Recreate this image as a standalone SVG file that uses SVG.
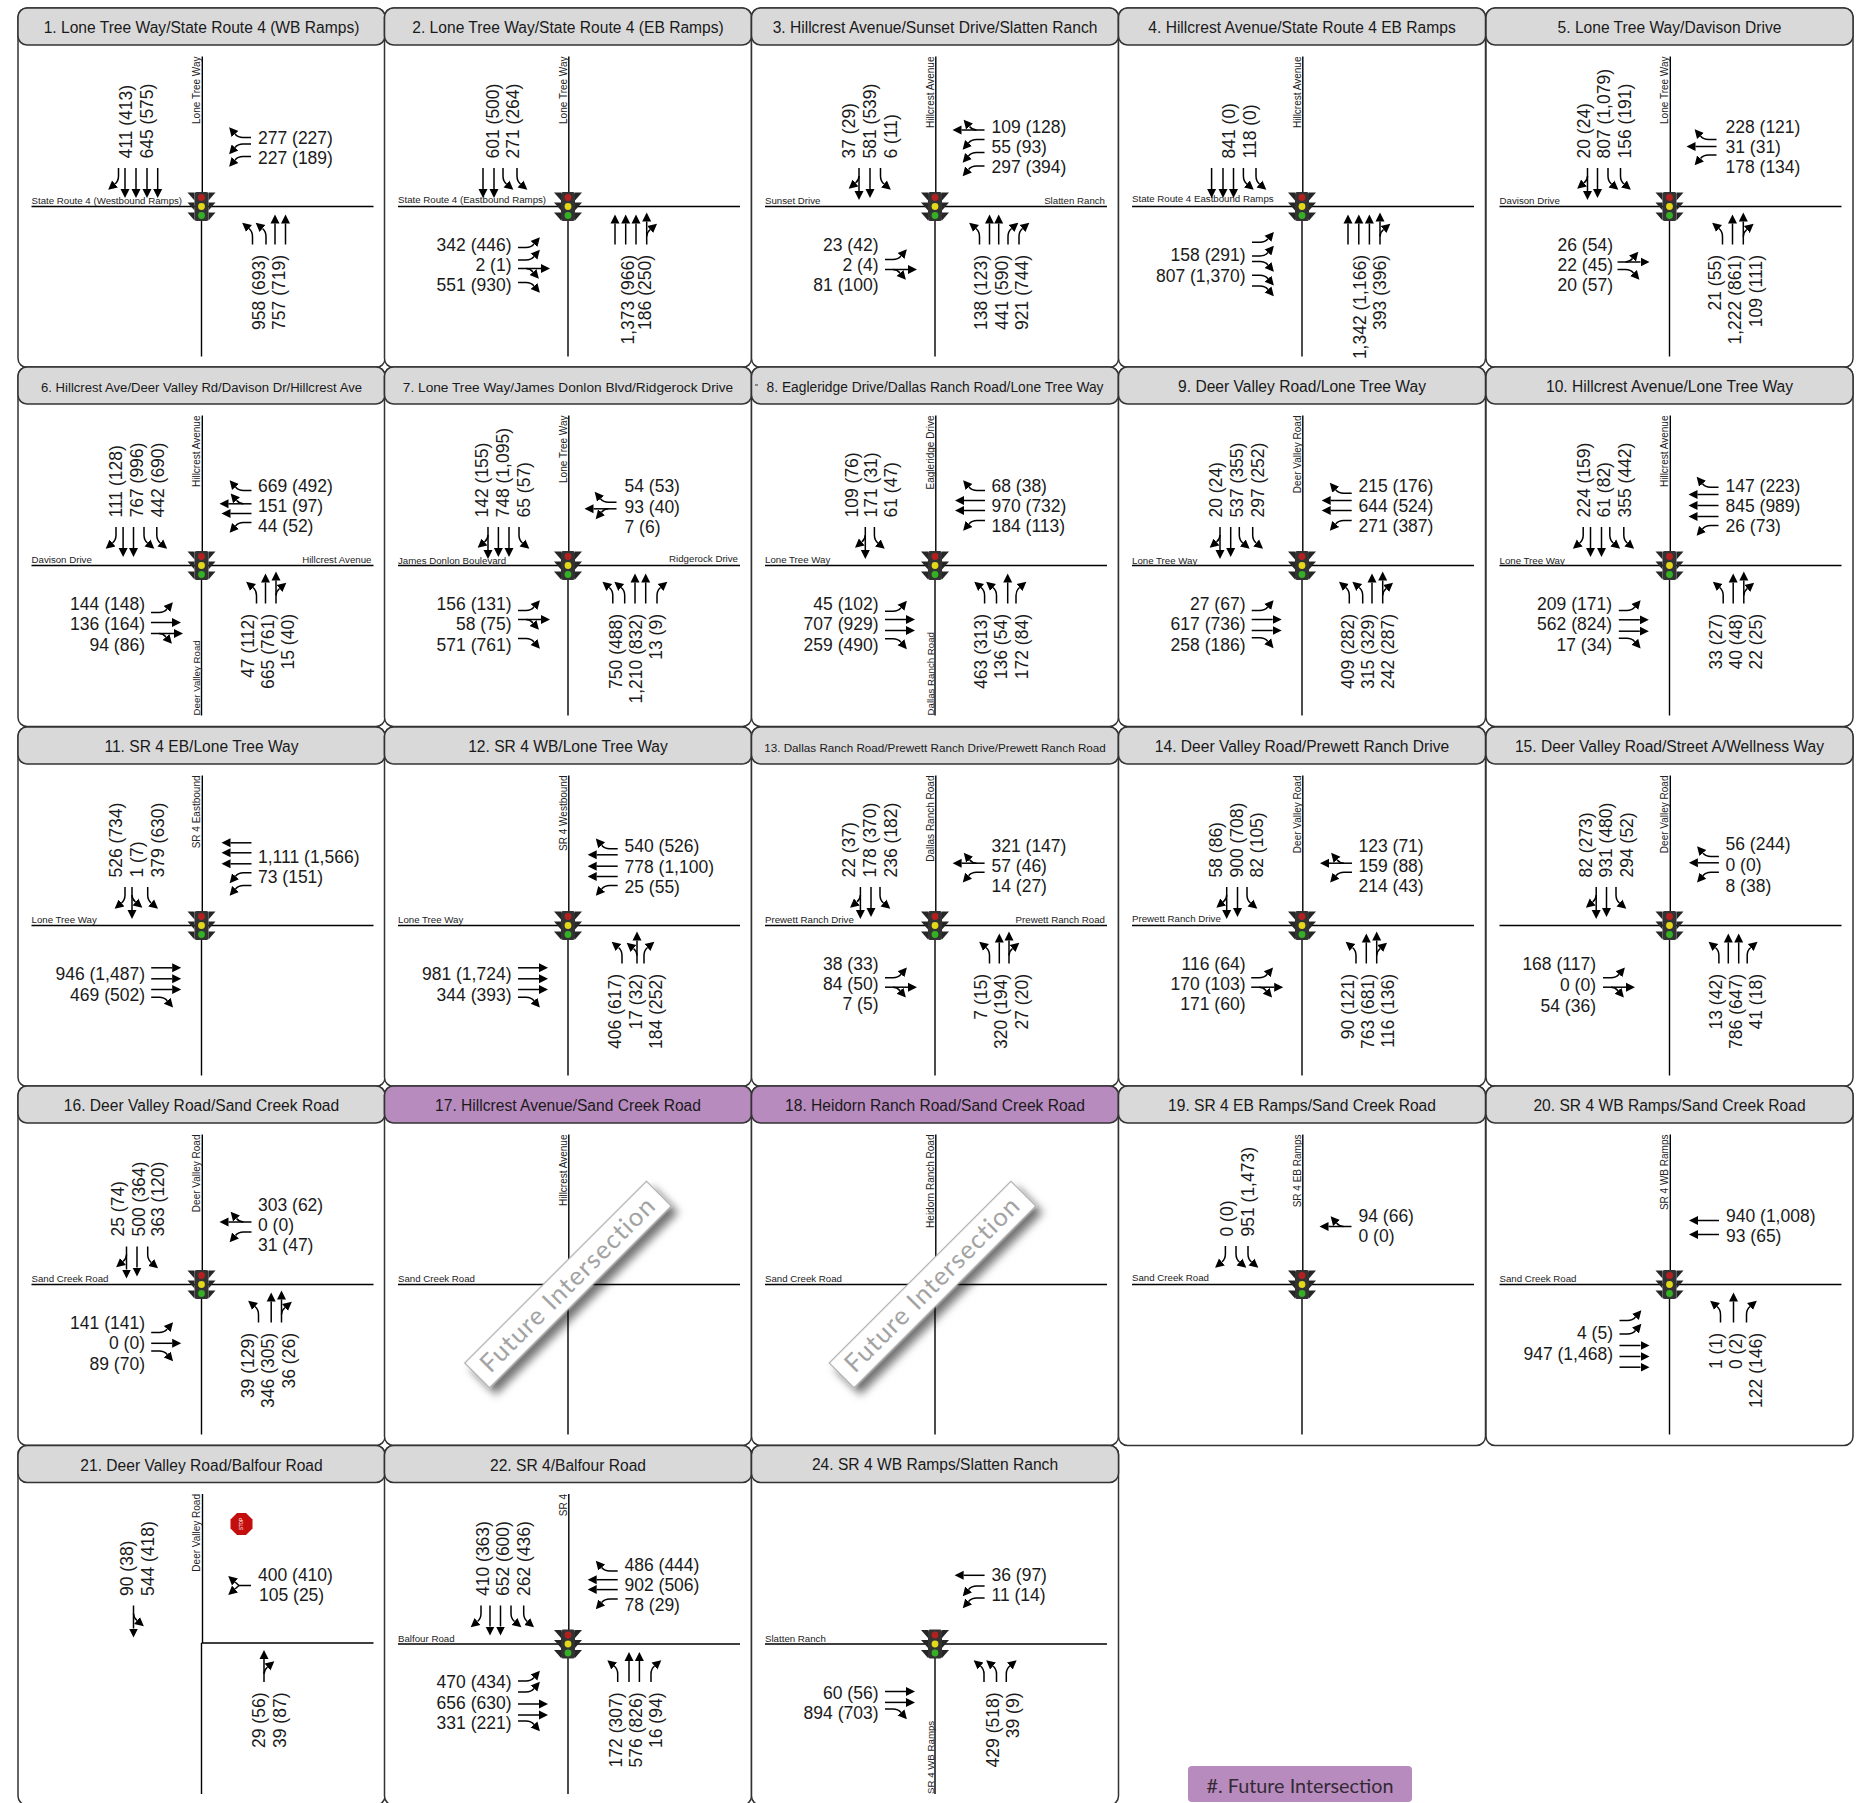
<svg xmlns="http://www.w3.org/2000/svg" xmlns:xlink="http://www.w3.org/1999/xlink" width="1869" height="1803" viewBox="0 0 1869 1803">
<style>
text{font-family:"Liberation Sans",Arial,sans-serif;fill:#1a1a1a}
.n text{font-size:17.5px}
.e{text-anchor:end}
.hd{fill:#d9d9d9;stroke:#333;stroke-width:1.5}
.hp{fill:#b88bbf;stroke:#333;stroke-width:1.5}
.fr{fill:#fff;stroke:#333;stroke-width:1.5}
.tt{font-size:15.6px;text-anchor:middle}
.rd{fill:none;stroke:#000;stroke-width:1.4}
.rl{font-size:10px;fill:#222}
.rh{font-size:9.7px;fill:#222}
.a{fill:none;stroke:#000;stroke-width:1.5;marker-end:url(#h)}
.ban{fill:#fff;stroke:#a8a8a8;stroke-width:1.2}
.bt{font-family:Lato,"Open Sans",sans-serif;font-size:25.5px;fill:#a3a3a3;text-anchor:middle;letter-spacing:1.2px}
</style>
<defs>
<marker id="h" markerUnits="userSpaceOnUse" markerWidth="12" markerHeight="12" refX="0" refY="6" orient="auto"><path d="M0,1.5L9,6L0,10.5z" fill="#000"/></marker>
<filter id="ds" x="-20%" y="-80%" width="140%" height="300%"><feDropShadow dx="0" dy="9" stdDeviation="4.5" flood-color="#000" flood-opacity=".55"/></filter>
<rect id="frame" class="fr" x="-183.5" y="-198.5" width="367" height="359.5" rx="9"/>
<rect id="hg" class="hd" x="-183.5" y="-198.5" width="367" height="37" rx="9"/>
<rect id="hv" class="hp" x="-183.5" y="-198.5" width="367" height="37" rx="9"/>
<path id="roads" class="rd" d="M.8,-150V0M0,0V150M-170,0H172"/>
<g id="t"><path class="a" d="M0,0V21"/></g>
<g id="r"><path class="a" d="M0,0V8Q0,13 -3.5,16"/></g>
<g id="l"><path class="a" d="M0,0V8Q0,13 3.5,16"/></g>
<g id="tr"><path class="a" d="M0,0V23"/><path class="a" d="M0,8Q0,12 -3.5,15"/></g>
<g id="tl"><path class="a" d="M0,0V23"/><path class="a" d="M0,8Q0,12 3.5,15"/></g>
<g id="y"><path class="a" d="M0,0V12L-3.5,16"/><path class="a" d="M0,12L3.5,16"/></g>
<g id="sig">
<path d="M-7,-14H-14L-7,-6zM7,-14H14L7,-6zM-7,-4H-14L-7,4zM7,-4H14L7,4zM-7,6H-14L-7,14zM7,6H14L7,14z" fill="#262626"/>
<rect x="-7" y="-14.5" width="14" height="29" rx="2" fill="#333"/>
<circle cy="-9" r="3.4" fill="#b32020"/><circle cy="0" r="3.4" fill="#e3d81a"/><circle cy="9" r="3.4" fill="#35b025"/>
</g>
</defs>

<g id="n1" transform="translate(201.5,206.5)"><use href="#frame"/><use href="#hg"/><text class="tt" y="-173.5">1. Lone Tree Way/State Route 4 (WB Ramps)</text><use href="#roads"/>
<text class="rh" x="-170" y="-2.5">State Route 4 (Westbound Ramps)</text><text class="rl e" transform="translate(-1.5,-150) rotate(-90)">Lone Tree Way</text><use href="#sig"/>
<g transform="translate(0,-38.5)"><use href="#r" x="-83"/><use href="#t" x="-76.5"/><use href="#t" x="-65.5"/><use href="#t" x="-54.5"/><use href="#t" x="-43.8"/></g>
<g transform="translate(49.5,0) rotate(90)"><use href="#r" x="-69"/><use href="#l" x="-62.5"/><use href="#l" x="-50"/></g>
<g transform="translate(0,38) rotate(180)"><use href="#l" x="-51"/><use href="#l" x="-64.5"/><use href="#t" x="-73.5"/><use href="#t" x="-84"/></g>
<g class="n"><g transform="translate(0,-48) rotate(-90)"><text y="-69.5">411 (413)</text><text y="-49">645 (575)</text></g><text x="56.5" y="-62.5">277 (227)</text><text x="56.5" y="-42.5">227 (189)</text><g class="e" transform="translate(0,48.5) rotate(-90)"><text y="63.5">958 (693)</text><text y="83.5">757 (719)</text></g></g></g>

<g id="n2" transform="translate(568,206.5)"><use href="#frame"/><use href="#hg"/><text class="tt" y="-173.5">2. Lone Tree Way/State Route 4 (EB Ramps)</text><use href="#roads"/>
<text class="rh" x="-170" y="-3.5">State Route 4 (Eastbound Ramps)</text><text class="rl e" transform="translate(-1.5,-150) rotate(-90)">Lone Tree Way</text><use href="#sig"/>
<g transform="translate(0,-38.5)"><use href="#t" x="-85"/><use href="#t" x="-74"/><use href="#l" x="-65"/><use href="#l" x="-51"/></g>
<g transform="translate(-50,0) rotate(-90)"><use href="#l" x="-41"/><use href="#l" x="-53.5"/><use href="#tr" x="-62"/><use href="#r" x="-76"/></g>
<g transform="translate(0,38) rotate(180)"><use href="#t" x="-47"/><use href="#t" x="-57.7"/><use href="#t" x="-68"/><use href="#tr" x="-78.7"/></g>
<g class="n"><g transform="translate(0,-48) rotate(-90)"><text y="-69.5">601 (500)</text><text y="-48.7">271 (264)</text></g><g class="e"><text x="-56.5" y="44">342 (446)</text><text x="-56.5" y="64.5">2 (1)</text><text x="-56.5" y="84.5">551 (930)</text></g><g class="e" transform="translate(0,48.5) rotate(-90)"><text y="66">1,373 (966)</text><text y="83">186 (250)</text></g></g></g>

<g id="n3" transform="translate(935,206.5)"><use href="#frame"/><use href="#hg"/><text class="tt" y="-173.5">3. Hillcrest Avenue/Sunset Drive/Slatten Ranch</text><use href="#roads"/>
<text class="rh" x="-170" y="-2.5">Sunset Drive</text><text class="rh e" x="170" y="-2.5">Slatten Ranch</text><text class="rl e" transform="translate(-1.5,-150) rotate(-90)">Hillcrest Avenue</text><use href="#sig"/>
<g transform="translate(0,-38.5)"><use href="#tr" x="-76"/><use href="#t" x="-65"/><use href="#l" x="-54.5"/></g>
<g transform="translate(49.5,0) rotate(90)"><use href="#tr" x="-76.5"/><use href="#l" x="-67"/><use href="#l" x="-54"/><use href="#l" x="-40.5"/></g>
<g transform="translate(-50,0) rotate(-90)"><use href="#l" x="-53"/><use href="#tr" x="-63"/></g>
<g transform="translate(0,38) rotate(180)"><use href="#l" x="-44.5"/><use href="#t" x="-54.5"/><use href="#t" x="-63.7"/><use href="#r" x="-73"/><use href="#r" x="-84"/></g>
<g class="n"><g transform="translate(0,-48) rotate(-90)"><text y="-80">37 (29)</text><text y="-59">581 (539)</text><text y="-38">6 (11)</text></g><text x="56.5" y="-74">109 (128)</text><text x="56.5" y="-53.5">55 (93)</text><text x="56.5" y="-33.5">297 (394)</text><g class="e"><text x="-56.5" y="44">23 (42)</text><text x="-56.5" y="64.5">2 (4)</text><text x="-56.5" y="84.5">81 (100)</text></g><g class="e" transform="translate(0,48.5) rotate(-90)"><text y="52">138 (123)</text><text y="72.5">441 (590)</text><text y="92.5">921 (744)</text></g></g></g>

<g id="n4" transform="translate(1302,206.5)"><use href="#frame"/><use href="#hg"/><text class="tt" y="-173.5">4. Hillcrest Avenue/State Route 4 EB Ramps</text><use href="#roads"/>
<text class="rh" x="-170" y="-5">State Route 4 Eastbound Ramps</text><text class="rl e" transform="translate(-1.5,-150) rotate(-90)">Hillcrest Avenue</text><use href="#sig"/>
<g transform="translate(0,-38.5)"><use href="#t" x="-90.4"/><use href="#t" x="-79"/><use href="#t" x="-68.5"/><use href="#l" x="-58.6"/><use href="#l" x="-46"/></g>
<g transform="translate(-50,0) rotate(-90)"><use href="#l" x="-35.8"/><use href="#l" x="-49.5"/><use href="#r" x="-55"/><use href="#r" x="-68.7"/><use href="#r" x="-79.5"/></g>
<g transform="translate(0,38) rotate(180)"><use href="#t" x="-46"/><use href="#t" x="-56.8"/><use href="#t" x="-67.4"/><use href="#tr" x="-78"/></g>
<g class="n"><g transform="translate(0,-48) rotate(-90)"><text y="-67">841 (0)</text><text y="-46">118 (0)</text></g><g class="e"><text x="-56.5" y="54.5">158 (291)</text><text x="-56.5" y="75">807 (1,370)</text></g><g class="e" transform="translate(0,48.5) rotate(-90)"><text y="64">1,342 (1,166)</text><text y="83.7">393 (396)</text></g></g></g>

<g id="n5" transform="translate(1669.5,206.5)"><use href="#frame"/><use href="#hg"/><text class="tt" y="-173.5">5. Lone Tree Way/Davison Drive</text><use href="#roads"/>
<text class="rh" x="-170" y="-3">Davison Drive</text><text class="rl e" transform="translate(-1.5,-150) rotate(-90)">Lone Tree Way</text><use href="#sig"/>
<g transform="translate(0,-38.5)"><use href="#tr" x="-82"/><use href="#t" x="-72"/><use href="#l" x="-61.5"/><use href="#l" x="-49"/></g>
<g transform="translate(47,0) rotate(90)"><use href="#r" x="-67"/><use href="#t" x="-60"/><use href="#l" x="-51.5"/></g>
<g transform="translate(-52,0) rotate(-90)"><use href="#tl" x="-55.5"/><use href="#r" x="-63"/></g>
<g transform="translate(0,38) rotate(180)"><use href="#l" x="-53"/><use href="#t" x="-63"/><use href="#tr" x="-73.8"/></g>
<g class="n"><g transform="translate(0,-48) rotate(-90)"><text y="-80">20 (24)</text><text y="-59.5">807 (1,079)</text><text y="-38.5">156 (191)</text></g><text x="56" y="-74">228 (121)</text><text x="56" y="-53.5">31 (31)</text><text x="56" y="-33.5">178 (134)</text><g class="e"><text x="-56.5" y="44">26 (54)</text><text x="-56.5" y="64.5">22 (45)</text><text x="-56.5" y="84.5">20 (57)</text></g><g class="e" transform="translate(0,48.5) rotate(-90)"><text y="51">21 (55)</text><text y="71.5">1,222 (861)</text><text y="92.5">109 (111)</text></g></g></g>

<g id="n6" transform="translate(201.5,565.5)"><use href="#frame"/><use href="#hg"/><text class="tt" y="-173.5" style="font-size:13.1px">6. Hillcrest Ave/Deer Valley Rd/Davison Dr/Hillcrest Ave</text><use href="#roads"/>
<text class="rh" x="-170" y="-2.5">Davison Drive</text><text class="rh e" x="170" y="-2.5">Hillcrest Avenue</text><text class="rl e" transform="translate(-1.5,-150) rotate(-90)">Hillcrest Avenue</text><text class="rh" transform="translate(-1.5,150) rotate(-90)">Deer Valley Road</text><use href="#sig"/>
<g transform="translate(0,-38.5)"><use href="#r" x="-85.5"/><use href="#t" x="-78.4"/><use href="#t" x="-68"/><use href="#l" x="-57.5"/><use href="#l" x="-44.7"/></g>
<g transform="translate(50,0) rotate(90)"><use href="#r" x="-75"/><use href="#tr" x="-61.7"/><use href="#t" x="-52"/><use href="#l" x="-43"/></g>
<g transform="translate(-50.5,0) rotate(-90)"><use href="#l" x="-47"/><use href="#t" x="-57"/><use href="#tr" x="-68"/></g>
<g transform="translate(0,38) rotate(180)"><use href="#l" x="-55"/><use href="#t" x="-64"/><use href="#tr" x="-74.5"/></g>
<g class="n"><g transform="translate(0,-48) rotate(-90)"><text y="-80">111 (128)</text><text y="-59">767 (996)</text><text y="-38">442 (690)</text></g><text x="56.5" y="-74">669 (492)</text><text x="56.5" y="-53.5">151 (97)</text><text x="56.5" y="-33.5">44 (52)</text><g class="e"><text x="-56.5" y="44.5">144 (148)</text><text x="-56.5" y="64.5">136 (164)</text><text x="-56.5" y="85">94 (86)</text></g><g class="e" transform="translate(0,48.5) rotate(-90)"><text y="52">47 (112)</text><text y="72.5">665 (761)</text><text y="92.5">15 (40)</text></g></g></g>

<g id="n7" transform="translate(568,565.5)"><use href="#frame"/><use href="#hg"/><text class="tt" y="-173.5" style="font-size:13.7px">7. Lone Tree Way/James Donlon Blvd/Ridgerock Drive</text><use href="#roads"/>
<text class="rh" x="-170" y="-2">James Donlon Boulevard</text><text class="rh e" x="170" y="-4">Ridgerock Drive</text><text class="rl e" transform="translate(-1.5,-150) rotate(-90)">Lone Tree Way</text><use href="#sig"/>
<g transform="translate(0,-38.5)"><use href="#tr" x="-80"/><use href="#t" x="-69.6"/><use href="#t" x="-59"/><use href="#l" x="-49"/></g>
<g transform="translate(48.5,0) rotate(90)"><use href="#r" x="-63.3"/><use href="#tl" x="-56.7"/></g>
<g transform="translate(-50,0) rotate(-90)"><use href="#l" x="-45"/><use href="#tr" x="-54"/><use href="#r" x="-73"/></g>
<g transform="translate(0,38) rotate(180)"><use href="#l" x="-44.8"/><use href="#l" x="-56.7"/><use href="#t" x="-67"/><use href="#t" x="-77.7"/><use href="#r" x="-89"/></g>
<g class="n"><g transform="translate(0,-48) rotate(-90)"><text y="-80">142 (155)</text><text y="-59">748 (1,095)</text><text y="-38">65 (57)</text></g><text x="56.5" y="-74">54 (53)</text><text x="56.5" y="-53">93 (40)</text><text x="56.5" y="-33">7 (6)</text><g class="e"><text x="-56.5" y="44.5">156 (131)</text><text x="-56.5" y="64.5">58 (75)</text><text x="-56.5" y="85">571 (761)</text></g><g class="e" transform="translate(0,48.5) rotate(-90)"><text y="54">750 (488)</text><text y="74">1,210 (832)</text><text y="94">13 (9)</text></g></g></g>

<g id="n8" transform="translate(935,565.5)"><use href="#frame"/><use href="#hg"/><text class="tt" y="-173.5" style="font-size:13.8px">8. Eagleridge Drive/Dallas Ranch Road/Lone Tree Way</text><use href="#roads"/>
<rect x="-180" y="-181" width="3" height="1" fill="#333"/>
<text class="rh" x="-170" y="-2.5">Lone Tree Way</text><text class="rl e" transform="translate(-1.5,-150) rotate(-90)">Eagleridge Drive</text><text class="rh" transform="translate(-1.5,150) rotate(-90)">Dallas Ranch Road</text><use href="#sig"/>
<g transform="translate(0,-38.5)"><use href="#tr" x="-69.7"/><use href="#l" x="-60.6"/></g>
<g transform="translate(50,0) rotate(90)"><use href="#r" x="-75"/><use href="#t" x="-65"/><use href="#t" x="-55"/><use href="#l" x="-45"/></g>
<g transform="translate(-50,0) rotate(-90)"><use href="#l" x="-45.7"/><use href="#t" x="-54"/><use href="#t" x="-65"/><use href="#r" x="-73.3"/></g>
<g transform="translate(0,38) rotate(180)"><use href="#l" x="-49.6"/><use href="#l" x="-61.5"/><use href="#t" x="-72.7"/><use href="#r" x="-81"/></g>
<g class="n"><g transform="translate(0,-48) rotate(-90)"><text y="-77">109 (76)</text><text y="-58">171 (31)</text><text y="-38">61 (47)</text></g><text x="56.5" y="-74">68 (38)</text><text x="56.5" y="-53.5">970 (732)</text><text x="56.5" y="-33.5">184 (113)</text><g class="e"><text x="-56.5" y="44.5">45 (102)</text><text x="-56.5" y="64.5">707 (929)</text><text x="-56.5" y="85">259 (490)</text></g><g class="e" transform="translate(0,48.5) rotate(-90)"><text y="52">463 (313)</text><text y="72">136 (54)</text><text y="93">172 (84)</text></g></g></g>

<g id="n9" transform="translate(1302,565.5)"><use href="#frame"/><use href="#hg"/><text class="tt" y="-173.5">9. Deer Valley Road/Lone Tree Way</text><use href="#roads"/>
<text class="rh" x="-170" y="-2">Lone Tree Way</text><text class="rl e" transform="translate(-1.5,-150) rotate(-90)">Deer Valley Road</text><use href="#sig"/>
<g transform="translate(0,-38.5)"><use href="#tr" x="-82"/><use href="#t" x="-71.3"/><use href="#l" x="-62.7"/><use href="#l" x="-49.3"/></g>
<g transform="translate(49.7,0) rotate(90)"><use href="#r" x="-72.3"/><use href="#t" x="-65"/><use href="#t" x="-55"/><use href="#l" x="-45"/></g>
<g transform="translate(-50.3,0) rotate(-90)"><use href="#l" x="-45"/><use href="#t" x="-54"/><use href="#t" x="-65"/><use href="#r" x="-72.3"/></g>
<g transform="translate(0,38) rotate(180)"><use href="#l" x="-47.3"/><use href="#l" x="-60.7"/><use href="#t" x="-70"/><use href="#tr" x="-80.7"/></g>
<g class="n"><g transform="translate(0,-48) rotate(-90)"><text y="-80">20 (24)</text><text y="-59">537 (355)</text><text y="-38.5">297 (252)</text></g><text x="56.5" y="-74">215 (176)</text><text x="56.5" y="-53.5">644 (524)</text><text x="56.5" y="-33.5">271 (387)</text><g class="e"><text x="-56.5" y="44.5">27 (67)</text><text x="-56.5" y="64.5">617 (736)</text><text x="-56.5" y="85">258 (186)</text></g><g class="e" transform="translate(0,48.5) rotate(-90)"><text y="52">409 (282)</text><text y="72">315 (329)</text><text y="92">242 (287)</text></g></g></g>

<g id="n10" transform="translate(1669.5,565.5)"><use href="#frame"/><use href="#hg"/><text class="tt" y="-173.5">10. Hillcrest Avenue/Lone Tree Way</text><use href="#roads"/>
<text class="rh" x="-170" y="-2">Lone Tree Way</text><text class="rl e" transform="translate(-1.5,-150) rotate(-90)">Hillcrest Avenue</text><use href="#sig"/>
<g transform="translate(0,-38.5)"><use href="#r" x="-86.3"/><use href="#t" x="-79"/><use href="#t" x="-68"/><use href="#l" x="-59.7"/><use href="#l" x="-45.7"/></g>
<g transform="translate(49,0) rotate(90)"><use href="#r" x="-78.3"/><use href="#t" x="-71"/><use href="#t" x="-60"/><use href="#t" x="-49"/><use href="#l" x="-40"/></g>
<g transform="translate(-50.7,0) rotate(-90)"><use href="#l" x="-45"/><use href="#t" x="-54.3"/><use href="#t" x="-65.7"/><use href="#r" x="-72.7"/></g>
<g transform="translate(0,38) rotate(180)"><use href="#l" x="-53.7"/><use href="#t" x="-63.7"/><use href="#tr" x="-74.3"/></g>
<g class="n"><g transform="translate(0,-48) rotate(-90)"><text y="-80">224 (159)</text><text y="-60">61 (82)</text><text y="-39">355 (442)</text></g><text x="56" y="-74">147 (223)</text><text x="56" y="-53.5">845 (989)</text><text x="56" y="-33.5">26 (73)</text><g class="e"><text x="-57.5" y="44.5">209 (171)</text><text x="-57.5" y="64.5">562 (824)</text><text x="-57.5" y="85">17 (34)</text></g><g class="e" transform="translate(0,48.5) rotate(-90)"><text y="52">33 (27)</text><text y="72">40 (48)</text><text y="92">22 (25)</text></g></g></g>

<g id="n11" transform="translate(201.5,925.5)"><use href="#frame"/><use href="#hg"/><text class="tt" y="-173.5">11. SR 4 EB/Lone Tree Way</text><use href="#roads"/>
<text class="rh" x="-170" y="-2.5">Lone Tree Way</text><text class="rl e" transform="translate(-1.5,-150) rotate(-90)">SR 4 Eastbound</text><use href="#sig"/>
<g transform="translate(0,-38.5)"><use href="#r" x="-76.5"/><use href="#tl" x="-69.5"/><use href="#l" x="-53.8"/></g>
<g transform="translate(50,0) rotate(90)"><use href="#t" x="-82.7"/><use href="#t" x="-72.7"/><use href="#t" x="-61.7"/><use href="#l" x="-52.7"/><use href="#l" x="-40"/></g>
<g transform="translate(-50.3,0) rotate(-90)"><use href="#t" x="-42.3"/><use href="#t" x="-53.3"/><use href="#t" x="-64"/><use href="#r" x="-71.7"/></g>
<g class="n"><g transform="translate(0,-48) rotate(-90)"><text y="-80">526 (734)</text><text y="-59">1 (7)</text><text y="-38">379 (630)</text></g><text x="56.5" y="-63">1,111 (1,566)</text><text x="56.5" y="-43">73 (151)</text><g class="e"><text x="-56.5" y="54.5">946 (1,487)</text><text x="-56.5" y="75">469 (502)</text></g></g></g>

<g id="n12" transform="translate(568,925.5)"><use href="#frame"/><use href="#hg"/><text class="tt" y="-173.5">12. SR 4 WB/Lone Tree Way</text><use href="#roads"/>
<text class="rh" x="-170" y="-2.5">Lone Tree Way</text><text class="rl e" transform="translate(-1.5,-150) rotate(-90)">SR 4 Westbound</text><use href="#sig"/>
<g transform="translate(49.7,0) rotate(90)"><use href="#r" x="-76.7"/><use href="#t" x="-70.7"/><use href="#t" x="-59.3"/><use href="#t" x="-49"/><use href="#l" x="-40"/></g>
<g transform="translate(-50,0) rotate(-90)"><use href="#t" x="-42.3"/><use href="#t" x="-53.3"/><use href="#t" x="-64"/><use href="#r" x="-71.7"/></g>
<g transform="translate(0,38) rotate(180)"><use href="#l" x="-54"/><use href="#tl" x="-69"/><use href="#r" x="-76"/></g>
<g class="n"><text x="56.5" y="-73.5">540 (526)</text><text x="56.5" y="-53">778 (1,100)</text><text x="56.5" y="-33">25 (55)</text><g class="e"><text x="-56.5" y="54.5">981 (1,724)</text><text x="-56.5" y="75">344 (393)</text></g><g class="e" transform="translate(0,48.5) rotate(-90)"><text y="53">406 (617)</text><text y="73.5">17 (32)</text><text y="94">184 (252)</text></g></g></g>

<g id="n13" transform="translate(935,925.5)"><use href="#frame"/><use href="#hg"/><text class="tt" y="-173.5" style="font-size:11.7px">13. Dallas Ranch Road/Prewett Ranch Drive/Prewett Ranch Road</text><use href="#roads"/>
<text class="rh" x="-170" y="-2.5">Prewett Ranch Drive</text><text class="rh e" x="170" y="-2.5">Prewett Ranch Road</text><text class="rl e" transform="translate(-1.5,-150) rotate(-90)">Dallas Ranch Road</text><use href="#sig"/>
<g transform="translate(0,-38.5)"><use href="#tr" x="-74.6"/><use href="#t" x="-64"/><use href="#l" x="-55"/></g>
<g transform="translate(49.6,0) rotate(90)"><use href="#tr" x="-62.3"/><use href="#l" x="-53.3"/></g>
<g transform="translate(-50,0) rotate(-90)"><use href="#l" x="-52.3"/><use href="#tr" x="-61.7"/></g>
<g transform="translate(0,38) rotate(180)"><use href="#l" x="-54.5"/><use href="#t" x="-64.3"/><use href="#tr" x="-74"/></g>
<g class="n"><g transform="translate(0,-48) rotate(-90)"><text y="-80">22 (37)</text><text y="-59">178 (370)</text><text y="-38">236 (182)</text></g><text x="56.5" y="-74">321 (147)</text><text x="56.5" y="-53.5">57 (46)</text><text x="56.5" y="-33.5">14 (27)</text><g class="e"><text x="-56.5" y="44">38 (33)</text><text x="-56.5" y="64">84 (50)</text><text x="-56.5" y="84.5">7 (5)</text></g><g class="e" transform="translate(0,48.5) rotate(-90)"><text y="52">7 (15)</text><text y="72">320 (194)</text><text y="92.5">27 (20)</text></g></g></g>

<g id="n14" transform="translate(1302,925.5)"><use href="#frame"/><use href="#hg"/><text class="tt" y="-173.5">14. Deer Valley Road/Prewett Ranch Drive</text><use href="#roads"/>
<text class="rh" x="-170" y="-4">Prewett Ranch Drive</text><text class="rl e" transform="translate(-1.5,-150) rotate(-90)">Deer Valley Road</text><use href="#sig"/>
<g transform="translate(0,-38.5)"><use href="#tr" x="-75.3"/><use href="#t" x="-64.5"/><use href="#l" x="-55"/></g>
<g transform="translate(50,0) rotate(90)"><use href="#tr" x="-62.3"/><use href="#l" x="-53.3"/></g>
<g transform="translate(-50.8,0) rotate(-90)"><use href="#l" x="-52.3"/><use href="#tr" x="-61.7"/></g>
<g transform="translate(0,38) rotate(180)"><use href="#l" x="-54"/><use href="#t" x="-64.3"/><use href="#tr" x="-74.7"/></g>
<g class="n"><g transform="translate(0,-48) rotate(-90)"><text y="-80">58 (86)</text><text y="-59.5">900 (708)</text><text y="-39">82 (105)</text></g><text x="56.5" y="-74">123 (71)</text><text x="56.5" y="-53.5">159 (88)</text><text x="56.5" y="-33.5">214 (43)</text><g class="e"><text x="-56.5" y="44">116 (64)</text><text x="-56.5" y="64">170 (103)</text><text x="-56.5" y="84.5">171 (60)</text></g><g class="e" transform="translate(0,48.5) rotate(-90)"><text y="52">90 (121)</text><text y="72">763 (681)</text><text y="92">116 (136)</text></g></g></g>

<g id="n15" transform="translate(1669.5,925.5)"><use href="#frame"/><use href="#hg"/><text class="tt" y="-173.5">15. Deer Valley Road/Street A/Wellness Way</text><use href="#roads"/>
<text class="rl e" transform="translate(-1.5,-150) rotate(-90)">Deer Valley Road</text><use href="#sig"/>
<g transform="translate(0,-38.5)"><use href="#tr" x="-73.3"/><use href="#t" x="-63"/><use href="#l" x="-53.5"/></g>
<g transform="translate(49.4,0) rotate(90)"><use href="#r" x="-69"/><use href="#t" x="-62.7"/><use href="#l" x="-53.3"/></g>
<g transform="translate(-66.5,0) rotate(-90)"><use href="#l" x="-52.3"/><use href="#tr" x="-61.7"/></g>
<g transform="translate(0,38) rotate(180)"><use href="#l" x="-49.4"/><use href="#t" x="-58.8"/><use href="#t" x="-69.2"/><use href="#r" x="-77.7"/></g>
<g class="n"><g transform="translate(0,-48) rotate(-90)"><text y="-78">82 (273)</text><text y="-57.5">931 (480)</text><text y="-37">294 (52)</text></g><text x="56" y="-76">56 (244)</text><text x="56" y="-54.5">0 (0)</text><text x="56" y="-34">8 (38)</text><g class="e"><text x="-73.5" y="44">168 (117)</text><text x="-73.5" y="65">0 (0)</text><text x="-73.5" y="86">54 (36)</text></g><g class="e" transform="translate(0,48.5) rotate(-90)"><text y="52.5">13 (42)</text><text y="72">786 (647)</text><text y="92.5">41 (18)</text></g></g></g>

<g id="n16" transform="translate(201.5,1284.5)"><use href="#frame"/><use href="#hg"/><text class="tt" y="-173.5">16. Deer Valley Road/Sand Creek Road</text><use href="#roads"/>
<text class="rh" x="-170" y="-2.5">Sand Creek Road</text><text class="rl e" transform="translate(-1.5,-150) rotate(-90)">Deer Valley Road</text><use href="#sig"/>
<g transform="translate(0,-38)"><use href="#tr" x="-75"/><use href="#t" x="-64.5"/><use href="#l" x="-53.8"/></g>
<g transform="translate(50,0) rotate(90)"><use href="#tr" x="-62.5"/><use href="#l" x="-52.5"/></g>
<g transform="translate(-50.3,0) rotate(-90)"><use href="#l" x="-48"/><use href="#t" x="-58.8"/><use href="#r" x="-66.5"/></g>
<g transform="translate(0,38) rotate(180)"><use href="#l" x="-57"/><use href="#t" x="-69.7"/><use href="#tr" x="-80"/></g>
<g class="n"><g transform="translate(0,-48) rotate(-90)"><text y="-78">25 (74)</text><text y="-57">500 (364)</text><text y="-38">363 (120)</text></g><text x="56.5" y="-73.5">303 (62)</text><text x="56.5" y="-54">0 (0)</text><text x="56.5" y="-33.5">31 (47)</text><g class="e"><text x="-56.5" y="44">141 (141)</text><text x="-56.5" y="64.5">0 (0)</text><text x="-56.5" y="85">89 (70)</text></g><g class="e" transform="translate(0,48.5) rotate(-90)"><text y="52">39 (129)</text><text y="72.5">346 (305)</text><text y="93">36 (26)</text></g></g></g>

<g id="n17" transform="translate(568,1284.5)"><use href="#frame"/><use href="#hv"/><text class="tt" y="-173.5">17. Hillcrest Avenue/Sand Creek Road</text><use href="#roads"/>
<text class="rh" x="-170" y="-2.5">Sand Creek Road</text><text class="rl e" transform="translate(-1.5,-150) rotate(-90)">Hillcrest Avenue</text>
<g transform="rotate(-45)"><rect class="ban" x="-128.5" y="-17.5" width="257" height="35" filter="url(#ds)"/><text class="bt" y="8.5">Future Intersection</text></g></g>

<g id="n18" transform="translate(935,1284.5)"><use href="#frame"/><use href="#hv"/><text class="tt" y="-173.5">18. Heidorn Ranch Road/Sand Creek Road</text><use href="#roads"/>
<text class="rh" x="-170" y="-2.5">Sand Creek Road</text><text class="rl e" transform="translate(-1.5,-150) rotate(-90)">Heidorn Ranch Road</text>
<g transform="translate(-2.5,0) rotate(-45)"><rect class="ban" x="-128.5" y="-17.5" width="257" height="35" filter="url(#ds)"/><text class="bt" y="8.5">Future Intersection</text></g></g>

<g id="n19" transform="translate(1302,1284.5)"><use href="#frame"/><use href="#hg"/><text class="tt" y="-173.5">19. SR 4 EB Ramps/Sand Creek Road</text><use href="#roads"/>
<text class="rh" x="-170" y="-4">Sand Creek Road</text><text class="rl e" transform="translate(-1.5,-150) rotate(-90)">SR 4 EB Ramps</text><use href="#sig"/>
<g transform="translate(0,-38.5)"><use href="#r" x="-76.6"/><use href="#l" x="-66"/><use href="#l" x="-54"/></g>
<g transform="translate(49.5,0) rotate(90)"><use href="#tr" x="-58"/></g>
<g class="n"><g transform="translate(0,-48) rotate(-90)"><text y="-69.5">0 (0)</text><text y="-48">951 (1,473)</text></g><text x="56.5" y="-63">94 (66)</text><text x="56.5" y="-43">0 (0)</text></g></g>

<g id="n20" transform="translate(1669.5,1284.5)"><use href="#frame"/><use href="#hg"/><text class="tt" y="-173.5">20. SR 4 WB Ramps/Sand Creek Road</text><use href="#roads"/>
<text class="rh" x="-170" y="-2.5">Sand Creek Road</text><text class="rl e" transform="translate(-1.5,-150) rotate(-90)">SR 4 WB Ramps</text><use href="#sig"/>
<g transform="translate(49.5,0) rotate(90)"><use href="#t" x="-64"/><use href="#t" x="-50"/></g>
<g transform="translate(-50,0) rotate(-90)"><use href="#l" x="-36"/><use href="#l" x="-49.5"/><use href="#t" x="-61"/><use href="#t" x="-72"/><use href="#t" x="-82.7"/></g>
<g transform="translate(0,38) rotate(180)"><use href="#l" x="-51"/><use href="#t" x="-64"/><use href="#r" x="-77"/></g>
<g class="n"><text x="56.5" y="-63">940 (1,008)</text><text x="56.5" y="-43">93 (65)</text><g class="e"><text x="-56.5" y="54.5">4 (5)</text><text x="-56.5" y="75">947 (1,468)</text></g><g class="e" transform="translate(0,48.5) rotate(-90)"><text y="52">1 (1)</text><text y="72">0 (2)</text><text y="92">122 (146)</text></g></g></g>

<g id="n21" transform="translate(201.5,1644)"><use href="#frame"/><use href="#hg"/><text class="tt" y="-173.5">21. Deer Valley Road/Balfour Road</text>
<path class="rd" d="M1,-150V-1M0,-1V150M0,-1H172"/>
<text class="rl e" transform="translate(-1.5,-150) rotate(-90)">Deer Valley Road</text>
<g id="stop21" transform="translate(40,-120)"><path d="M-4.5,-11H4.5L11,-4.5V4.5L4.5,11H-4.5L-11,4.5V-4.5z" fill="#c40d0d"/><text transform="rotate(-90)" text-anchor="middle" y="1.6" style="font-size:4.5px;fill:#fff">STOP</text></g>
<g transform="translate(0,-38.5)"><use href="#tl" x="-68"/></g>
<g transform="translate(49.5,0) rotate(90)"><use href="#y" x="-58.5"/></g>
<g transform="translate(0,38) rotate(180)"><use href="#tr" x="-62.5"/></g>
<g class="n"><g transform="translate(0,-48) rotate(-90)"><text y="-68.5">90 (38)</text><text y="-48">544 (418)</text></g><text x="56.5" y="-63.5">400 (410)</text><text x="57.5" y="-43">105 (25)</text><g class="e" transform="translate(0,48.5) rotate(-90)"><text y="63.5">29 (56)</text><text y="84">39 (87)</text></g></g></g>

<g id="n22" transform="translate(568,1644)"><use href="#frame"/><use href="#hg"/><text class="tt" y="-173.5">22. SR 4/Balfour Road</text><use href="#roads"/>
<text class="rh" x="-170" y="-2.5">Balfour Road</text><text class="rl e" transform="translate(-1.5,-150) rotate(-90)">SR 4</text><use href="#sig"/>
<g transform="translate(0,-38.5)"><use href="#r" x="-87"/><use href="#t" x="-78"/><use href="#t" x="-67.5"/><use href="#l" x="-57"/><use href="#l" x="-44.3"/></g>
<g transform="translate(49.7,0) rotate(90)"><use href="#r" x="-73"/><use href="#t" x="-64.3"/><use href="#t" x="-54.4"/><use href="#l" x="-45"/></g>
<g transform="translate(-50,0) rotate(-90)"><use href="#l" x="-37"/><use href="#l" x="-48"/><use href="#t" x="-60"/><use href="#t" x="-71"/><use href="#r" x="-77"/></g>
<g transform="translate(0,38) rotate(180)"><use href="#l" x="-49.7"/><use href="#t" x="-61"/><use href="#t" x="-71.4"/><use href="#r" x="-83"/></g>
<g class="n"><g transform="translate(0,-48) rotate(-90)"><text y="-79.5">410 (363)</text><text y="-59">652 (600)</text><text y="-38">262 (436)</text></g><text x="56.5" y="-73">486 (444)</text><text x="56.5" y="-53">902 (506)</text><text x="56.5" y="-33">78 (29)</text><g class="e"><text x="-56.5" y="44">470 (434)</text><text x="-56.5" y="65">656 (630)</text><text x="-56.5" y="85">331 (221)</text></g><g class="e" transform="translate(0,48.5) rotate(-90)"><text y="54">172 (307)</text><text y="74">576 (826)</text><text y="94">16 (94)</text></g></g></g>

<g id="n24" transform="translate(935,1644)"><use href="#frame"/><use href="#hg"/><text class="tt" y="-174.5">24. SR 4 WB Ramps/Slatten Ranch</text>
<path class="rd" d="M0,0V150M-170,0H172"/>
<text class="rh" x="-170" y="-2.5">Slatten Ranch</text><text class="rh" transform="translate(-1.5,150) rotate(-90)">SR 4 WB Ramps</text><use href="#sig"/>
<g transform="translate(49.6,0) rotate(90)"><use href="#t" x="-68.7"/><use href="#l" x="-58"/><use href="#l" x="-46"/></g>
<g transform="translate(-50,0) rotate(-90)"><use href="#t" x="-47.5"/><use href="#t" x="-58.4"/><use href="#r" x="-65"/></g>
<g transform="translate(0,38) rotate(180)"><use href="#l" x="-49"/><use href="#l" x="-61.5"/><use href="#r" x="-71.3"/></g>
<g class="n"><text x="56.5" y="-63.5">36 (97)</text><text x="56.5" y="-43">11 (14)</text><g class="e"><text x="-56.5" y="54.5">60 (56)</text><text x="-56.5" y="75">894 (703)</text></g><g class="e" transform="translate(0,48.5) rotate(-90)"><text y="63.5">429 (518)</text><text y="84">39 (9)</text></g></g></g>

<g id="legend"><rect x="1188" y="1766" width="224" height="36" rx="4" fill="#b88bbf"/><text x="1300" y="1793" text-anchor="middle" style="font-family:Lato,'Open Sans',sans-serif;font-size:19.8px;fill:#332a33">#. Future Intersection</text></g>
</svg>
